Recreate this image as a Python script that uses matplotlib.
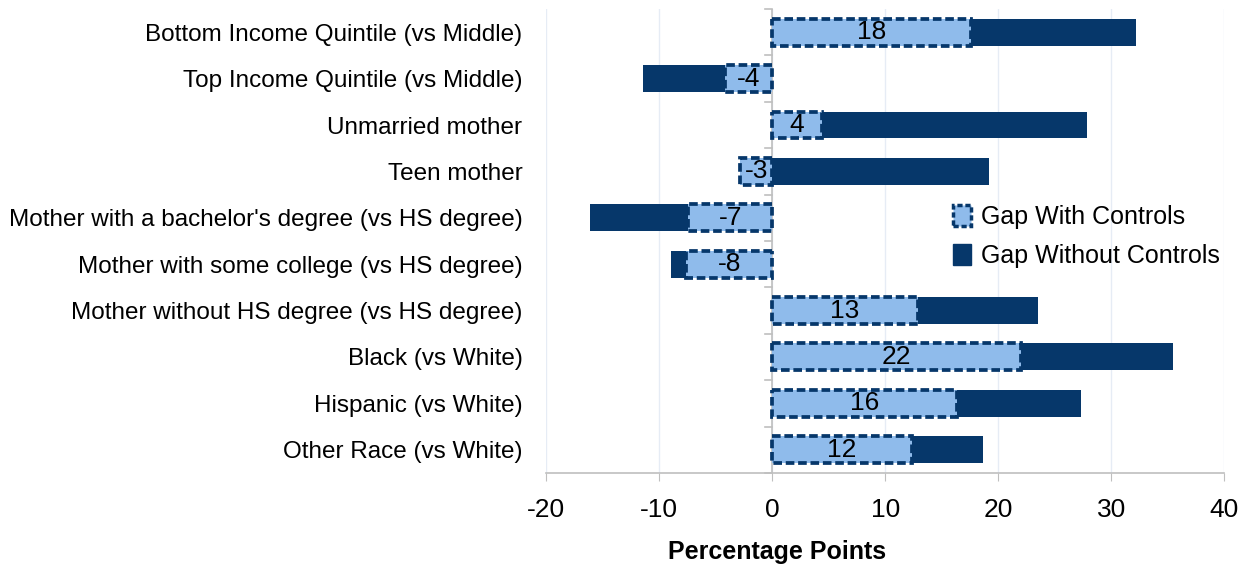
import matplotlib
matplotlib.use('Agg')
import matplotlib.pyplot as plt
from matplotlib.patches import Patch
import numpy as np

plt.rcParams['font.family'] = ['Liberation Sans', 'DejaVu Sans']
plt.rcParams['axes.unicode_minus'] = False

categories = [
    "Bottom Income Quintile (vs Middle)",
    "Top Income Quintile (vs Middle)",
    "Unmarried mother",
    "Teen mother",
    "Mother with a bachelor's degree (vs HS degree)",
    "Mother with some college (vs HS degree)",
    "Mother without HS degree (vs HS degree)",
    "Black (vs White)",
    "Hispanic (vs White)",
    "Other Race (vs White)",
]
gap_without = [32.2, -11.4, 27.9, 19.2, -16.1, -8.9, 23.5, 35.5, 27.3, 18.7]
gap_with = [17.6, -4.2, 4.4, -2.8, -7.4, -7.6, 12.9, 22.0, 16.4, 12.4]
labels = ["18", "-4", "4", "-3", "-7", "-8", "13", "22", "16", "12"]

dark = '#06376A'
light = '#8FBBEB'

fig = plt.figure(figsize=(12.48, 5.65), dpi=100)
ax = fig.add_axes([0.4375, 0.163, 0.5435, 0.821])

y = np.arange(len(categories))
h = 0.58
ax.barh(y, gap_without, height=h, color=dark, zorder=2)
ax.barh(y, gap_with, height=h, color=light, edgecolor=dark, linewidth=2.7,
        linestyle=(0, (2.3, 1.0)), zorder=3)

for yi, v, t in zip(y, gap_with, labels):
    ax.text(v / 2, yi, t, ha='center', va='center', fontsize=19, color='black', zorder=4)

ax.set_ylim(len(categories) - 0.5, -0.5)
ax.set_xlim(-20, 40)
ax.set_xticks(range(-20, 41, 10))
ax.set_yticks(y)
ax.set_yticklabels(categories, fontsize=17.5)
ax.tick_params(axis='y', length=0, pad=17)
ax.tick_params(axis='x', labelsize=19, length=6, color='#bfbfbf', pad=12)

# category axis at zero with tick marks between categories
ax.axvline(0, color='#bfbfbf', lw=1.2, zorder=1)
for b in np.arange(-0.5, len(categories), 1.0):
    ax.plot([-0.6, 0], [b, b], color='#bfbfbf', lw=1.2, zorder=1, clip_on=False)

ax.grid(axis='x', color='#e6ecf5', lw=1, zorder=0)
ax.set_axisbelow(True)
for s in ['top', 'right', 'left']:
    ax.spines[s].set_visible(False)
ax.spines['bottom'].set_color('#bfbfbf')
ax.spines['bottom'].set_linewidth(1.2)

ax.set_xlabel("Percentage Points", fontsize=18, fontweight='bold')
ax.xaxis.set_label_coords(0.34, -0.145)

handles = [
    Patch(facecolor=light, edgecolor=dark, linewidth=2.5, linestyle=(0, (1.5, 0.8))),
    Patch(facecolor=dark, edgecolor=dark),
]
ax.legend(handles, ["Gap With Controls", "Gap Without Controls"], loc='upper left',
          bbox_to_anchor=(0.567, 0.625), frameon=False, fontsize=18,
          handlelength=0.7, handleheight=0.9, handletextpad=0.4, labelspacing=0.6)

fig.savefig('out.png', dpi=100)
